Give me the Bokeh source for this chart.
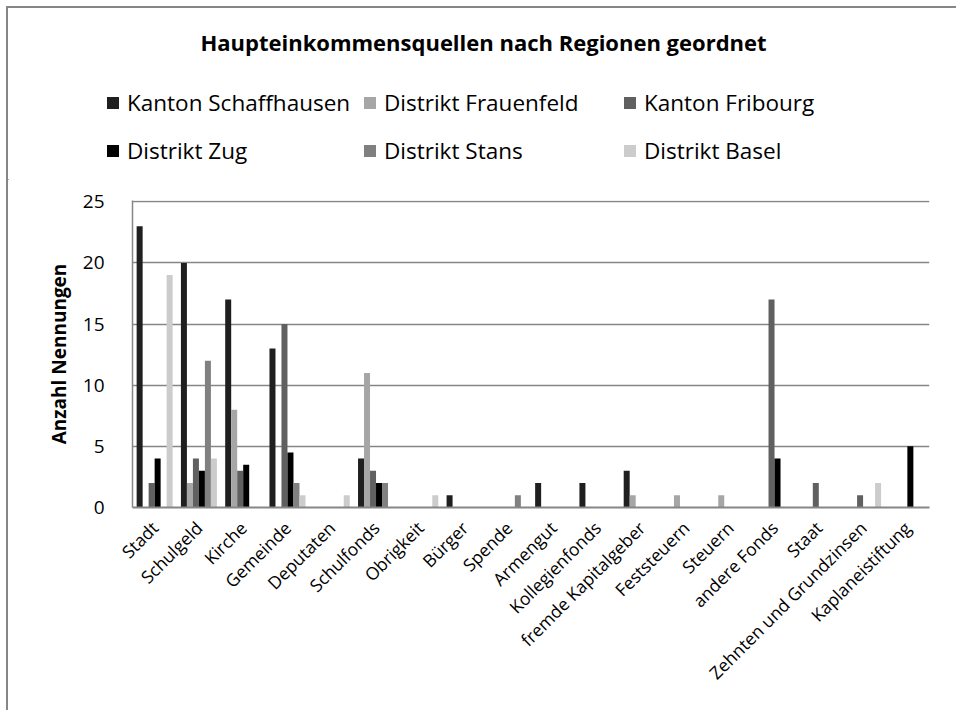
import math
from bokeh.plotting import figure
from bokeh.layouts import column, row
from bokeh.models import ColumnDataSource, Legend, LegendItem, Label, FixedTicker
from bokeh.transform import dodge
from bokeh.embed import file_html
from bokeh.resources import INLINE

categories = ["Stadt", "Schulgeld", "Kirche", "Gemeinde", "Deputaten", "Schulfonds",
              "Obrigkeit", "Bürger", "Spende", "Armengut", "Kollegienfonds",
              "fremde Kapitalgeber", "Feststeuern", "Steuern", "andere Fonds", "Staat",
              "Zehnten und Grundzinsen", "Kaplaneistiftung"]

series_names = ["Kanton Schaffhausen", "Distrikt Frauenfeld", "Kanton Fribourg",
                "Distrikt Zug", "Distrikt Stans", "Distrikt Basel"]

schaffhausen = [23, 20, 17, 13, 0, 4, 0, 1, 0, 2, 2, 3, 0, 0, 0, 0, 0, 0]
frauenfeld   = [0, 2, 8, 0, 0, 11, 0, 0, 0, 0, 0, 1, 1, 1, 0, 0, 0, 0]
fribourg     = [2, 4, 3, 15, 0, 3, 0, 0, 0, 0, 0, 0, 0, 0, 17, 2, 1, 0]
zug          = [4, 3, 3.5, 4.5, 0, 2, 0, 0, 0, 0, 0, 0, 0, 0, 4, 0, 0, 5]
stans        = [0, 12, 0, 2, 0, 2, 0, 0, 1, 0, 0, 0, 0, 0, 0, 0, 0, 0]
basel        = [19, 4, 0, 1, 1, 0, 1, 0, 0, 0, 0, 0, 0, 0, 0, 0, 2, 0]

y_ticks = [0, 5, 10, 15, 20, 25]
title_text = "Haupteinkommensquellen nach Regionen geordnet"

colors = ["#1f1f1f", "#a6a6a6", "#606060", "#000000", "#808080", "#cccccc"]
FONT = "Open Sans"
GRID = "#868686"

series = [schaffhausen, frauenfeld, fribourg, zug, stans, basel]
source = ColumnDataSource(dict(cat=categories, **{"s%d" % i: s for i, s in enumerate(series)}))

OFF = 8            # page offset of the content (border + margin)
SPLIT = 180        # page y where the header ends and the chart figure starts
TOTAL_W = 948
TOP_H = SPLIT - OFF
BOT_H = 710 - SPLIT

# ---------------- header (title + legend) ----------------
top = figure(width=TOTAL_W, height=TOP_H, x_range=(0, TOTAL_W), y_range=(0, TOP_H),
             output_backend="svg", toolbar_location=None,
             x_axis_location=None, y_axis_location=None,
             min_border=0, min_border_left=0, min_border_right=0,
             min_border_top=0, min_border_bottom=0)
top.grid.visible = False
top.outline_line_color = None
top.background_fill_color = "white"
top.border_fill_color = "white"

top.add_layout(Label(x=483 - OFF, y=TOP_H - (41 - OFF), x_units="screen", y_units="screen",
                     text=title_text, text_font=FONT, text_font_size="22px",
                     text_font_style="bold", text_align="center",
                     text_baseline="middle", text_color="black"))

# legend proxies (one bar each, far outside the visible header range)
proxy = ColumnDataSource(dict(x=[-1000], top=[1]))
dummies = [top.vbar(x="x", top="top", width=1, source=proxy, fill_color=c, line_color=None)
           for c in colors]

col_x = [105, 362, 622]
row_c = [104, 152]
for i in range(6):
    c, r = i % 3, i // 3
    lg = Legend(items=[LegendItem(label=series_names[i], renderers=[dummies[i]])],
                location=(col_x[c] - OFF, TOP_H - (row_c[r] - OFF) - 13.5),
                orientation="horizontal",
                padding=0, margin=0, spacing=0, border_line_color=None,
                background_fill_alpha=0, glyph_width=15, glyph_height=15,
                label_standoff=7, label_height=15,
                label_text_font=FONT, label_text_font_size="22.5px", label_text_color="black")
    top.add_layout(lg, "center")

# ---------------- main chart ----------------
ML, MR, MT = 132 - OFF, TOTAL_W - (929 - OFF), 200 - SPLIT
MB = BOT_H - (507 - SPLIT)
p = figure(x_range=categories, y_range=(0, 25.1), width=TOTAL_W, height=BOT_H,
           output_backend="svg", toolbar_location=None,
           min_border_left=ML, min_border_right=MR, min_border_top=MT, min_border_bottom=MB)
p.outline_line_color = None
p.background_fill_color = "white"
p.border_fill_color = "white"

bw = 0.1355
for i in range(6):
    p.vbar(x=dodge("cat", (i - 2.5) * bw, range=p.x_range), top="s%d" % i, width=bw,
           source=source, fill_color=colors[i], line_color=None)

p.yaxis.ticker = FixedTicker(ticks=y_ticks)
p.yaxis.axis_line_color = GRID
p.yaxis.axis_line_width = 1.5
p.yaxis.major_tick_line_color = None
p.yaxis.minor_tick_line_color = None
p.yaxis.major_label_text_font = FONT
p.yaxis.major_label_text_font_size = "19px"
p.yaxis.major_label_text_color = "black"
p.yaxis.major_label_standoff = 22
p.yaxis.axis_label = "Anzahl Nennungen"
p.yaxis.axis_label_text_font = FONT
p.yaxis.axis_label_text_font_size = "19px"
p.yaxis.axis_label_text_font_style = "bold"
p.yaxis.axis_label_text_color = "black"
p.yaxis.axis_label_standoff = 8

p.xaxis.axis_line_color = GRID
p.xaxis.axis_line_width = 2
p.xaxis.major_tick_line_color = None
p.xaxis.minor_tick_line_color = None
p.xaxis.major_label_orientation = math.pi / 4
p.xaxis.major_label_text_font = FONT
p.xaxis.major_label_text_font_size = "17.5px"
p.xaxis.major_label_text_color = "black"
p.xaxis.major_label_standoff = 11

p.xgrid.grid_line_color = None
p.ygrid.grid_line_color = GRID
p.ygrid.grid_line_width = 1.5

layout = column(top, row(p, spacing=0), spacing=0, margin=(6, 0, 0, 6),
                styles={"border-left": "2px solid #868686", "border-top": "2px solid #868686"})
open("out.html", "w").write(file_html(layout, INLINE))
